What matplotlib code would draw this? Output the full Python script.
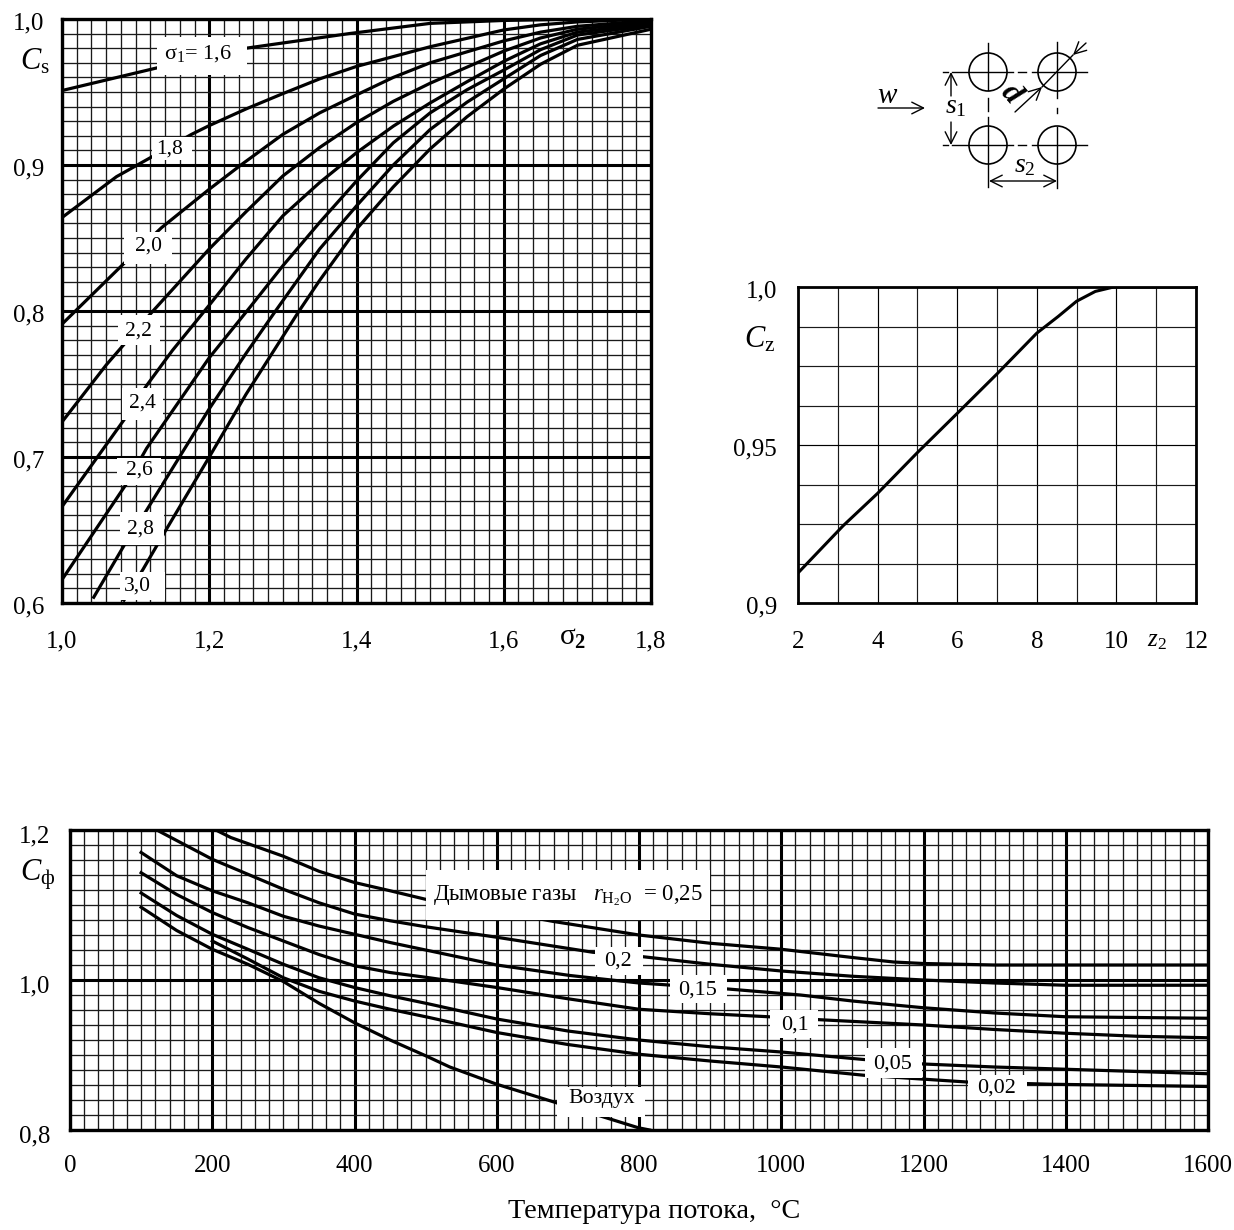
import matplotlib

matplotlib.use("Agg")
import matplotlib.pyplot as plt
from matplotlib.patches import Circle, Rectangle
from matplotlib.transforms import ScaledTranslation

plt.rcParams["font.family"] = ["Liberation Serif", "DejaVu Serif"]
plt.rcParams["mathtext.fontset"] = "custom"
plt.rcParams["mathtext.rm"] = "Liberation Serif"
plt.rcParams["mathtext.it"] = "Liberation Serif:italic"
plt.rcParams["mathtext.bf"] = "Liberation Serif:bold"

W, H = 1234, 1230

# Cs(sigma2) - one curve per sigma1
s16_x = [1.0, 1.133, 1.25, 1.39, 1.5, 1.6, 1.7, 1.8]
s16_y = [0.951, 0.967, 0.980, 0.990, 0.997, 0.999, 1.0, 1.0]
s18_x = [1.0, 1.074, 1.12, 1.176, 1.2, 1.25, 1.3, 1.35, 1.4, 1.5, 1.6, 1.65, 1.7, 1.8]
s18_y = [0.864, 0.892, 0.905, 0.921, 0.927, 0.9384, 0.9489, 0.959, 0.9675, 0.981, 0.9925, 0.996, 0.998, 1.0]
s20_x = [1.0, 1.085, 1.135, 1.2, 1.243, 1.3, 1.35, 1.4, 1.45, 1.5, 1.6, 1.65, 1.7, 1.8]
s20_y = [0.791, 0.833, 0.857, 0.8834, 0.90, 0.921, 0.9357, 0.948, 0.960, 0.970, 0.985, 0.991, 0.995, 0.999]
s22_x = [1.0, 1.06, 1.12, 1.2, 1.25, 1.3, 1.35, 1.4, 1.45, 1.5, 1.55, 1.6, 1.65, 1.7, 1.8]
s22_y = [0.724, 0.763, 0.798, 0.8425, 0.868, 0.8925, 0.912, 0.929, 0.9436, 0.956, 0.967, 0.978, 0.987, 0.993, 0.998]
s24_x = [1.0, 1.085, 1.115, 1.15, 1.2, 1.25, 1.3, 1.35, 1.4, 1.45, 1.5, 1.55, 1.6, 1.65, 1.7, 1.8]
s24_y = [0.666, 0.726, 0.749, 0.773, 0.804, 0.8357, 0.8652, 0.888, 0.9084, 0.9266, 0.9425, 0.957, 0.971, 0.983, 0.991, 0.997]
s26_x = [1.0, 1.088, 1.115, 1.2, 1.256, 1.3, 1.35, 1.4, 1.45, 1.5, 1.55, 1.6, 1.65, 1.7, 1.8]
s26_y = [0.616, 0.682, 0.706, 0.768, 0.803, 0.831, 0.8607, 0.889, 0.9152, 0.9357, 0.9515, 0.965, 0.979, 0.989, 0.996]
s28_x = [1.042, 1.085, 1.113, 1.2, 1.25, 1.29, 1.35, 1.4, 1.45, 1.5, 1.55, 1.6, 1.65, 1.7, 1.8]
s28_y = [0.603, 0.64, 0.662, 0.733, 0.771, 0.80, 0.8425, 0.872, 0.90, 0.9243, 0.943, 0.959, 0.975, 0.986, 0.995]
s30_x = [1.083, 1.11, 1.14, 1.2, 1.25, 1.322, 1.35, 1.4, 1.45, 1.5, 1.55, 1.6, 1.65, 1.7, 1.8]
s30_y = [0.601, 0.623, 0.649, 0.70, 0.743, 0.80, 0.821, 0.856, 0.885, 0.911, 0.933, 0.952, 0.969, 0.982, 0.993]

# Cz(z2)
z2_vals = [2, 3.13, 4, 5, 6, 7, 8, 8.54, 9, 9.47, 9.93, 12]
cz_vals = [0.9095, 0.9244, 0.9347, 0.9476, 0.96, 0.9725, 0.9854, 0.9907, 0.9955, 0.9986, 1.0, 1.0]

# Cphi(T)
r25_t = [205, 226, 300, 350, 400, 450, 500, 600, 680, 800, 900, 1000, 1100, 1158, 1200, 1300, 1400, 1600]
r25_c = [1.2, 1.19, 1.165, 1.145, 1.13, 1.119, 1.1076, 1.092, 1.078, 1.06, 1.049, 1.041, 1.03, 1.024, 1.022, 1.02, 1.02, 1.02]
r20_t = [122, 200, 250, 300, 350, 400, 450, 500, 600, 735, 806, 900, 1000, 1100, 1200, 1300, 1400, 1600]
r20_c = [1.2, 1.161, 1.141, 1.121, 1.103, 1.088, 1.079, 1.071, 1.057, 1.037, 1.031, 1.021, 1.012, 1.005, 1.0, 0.996, 0.993, 0.993]
r15_t = [100, 150, 200, 250, 300, 350, 400, 450, 505, 600, 703, 800, 925, 1027, 1100, 1200, 1300, 1400, 1600]
r15_c = [1.17, 1.139, 1.119, 1.103, 1.085, 1.072, 1.061, 1.05, 1.039, 1.02, 1.006, 0.996, 0.988, 0.98, 0.972, 0.963, 0.956, 0.951, 0.949]
r10_t = [100, 150, 200, 250, 300, 350, 400, 450, 505, 600, 700, 800, 900, 982, 1055, 1200, 1300, 1400, 1500, 1600]
r10_c = [1.143, 1.114, 1.09, 1.07, 1.052, 1.034, 1.019, 1.01, 1.003, 0.99, 0.975, 0.961, 0.955, 0.951, 0.947, 0.94, 0.934, 0.929, 0.925, 0.923]
r05_t = [100, 150, 200, 250, 300, 350, 400, 450, 505, 600, 700, 800, 900, 1000, 1116, 1200, 1300, 1400, 1600]
r05_c = [1.116, 1.086, 1.061, 1.041, 1.021, 1.003, 0.99, 0.979, 0.968, 0.948, 0.932, 0.92, 0.911, 0.904, 0.894, 0.888, 0.884, 0.881, 0.875]
r02_t = [200, 250, 300, 350, 400, 450, 505, 600, 700, 800, 900, 1000, 1116, 1261, 1380, 1600]
r02_c = [1.052, 1.028, 1.003, 0.985, 0.972, 0.961, 0.95, 0.93, 0.914, 0.901, 0.892, 0.884, 0.873, 0.864, 0.861, 0.858]
air_t = [100, 150, 200, 250, 300, 350, 400, 450, 500, 534, 600, 685, 731, 799, 815]
air_c = [1.097, 1.066, 1.041, 1.021, 0.998, 0.969, 0.943, 0.92, 0.899, 0.884, 0.861, 0.836, 0.823, 0.803, 0.80]

cs_xticks = [1.0, 1.2, 1.4, 1.6, 1.8]
cs_xlabels = ["1,0", "1,2", "1,4", "1,6", "1,8"]
cs_yticks = [0.6, 0.7, 0.8, 0.9, 1.0]
cs_ylabels = ["0,6", "0,7", "0,8", "0,9", "1,0"]
cz_xticks = [2, 4, 6, 8, 10, 12]
cz_yticks = [0.9, 0.95, 1.0]
cz_ylabels = ["0,9", "0,95", "1,0"]
cf_xticks = [0, 200, 400, 600, 800, 1000, 1200, 1400, 1600]
cf_yticks = [0.8, 1.0, 1.2]
cf_ylabels = ["0,8", "1,0", "1,2"]

fig = plt.figure(figsize=(W / 100, H / 100), dpi=100, facecolor="white")


def make_axes(left, top, right, bottom):
    return fig.add_axes([left / W, 1 - bottom / H, (right - left) / W, (bottom - top) / H])


def grid_setup(ax, xticks, xlabels, xminor, yticks, ylabels, yminor, major_lw, minor_lw, frame_lw, padx, pady, ydrop):
    ax.set_xticks(xticks, xlabels)
    ax.set_yticks(yticks, ylabels)
    ax.set_xticks(xminor, minor=True)
    ax.set_yticks(yminor, minor=True)
    ax.grid(True, which="major", color="black", lw=major_lw)
    ax.grid(True, which="minor", color="#1a1a1a", lw=minor_lw)
    ax.set_axisbelow(True)
    ax.tick_params(which="both", length=0)
    ax.tick_params(axis="x", pad=padx, labelsize=18)
    ax.tick_params(axis="y", pad=pady, labelsize=18)
    # the y labels sit a little below their lines in the print
    for lab in ax.get_yticklabels():
        lab.set_transform(lab.get_transform() + ScaledTranslation(0, -ydrop / 100, fig.dpi_scale_trans))
    for s in ax.spines.values():
        s.set_linewidth(frame_lw)


# chart Cs
ax1 = make_axes(62, 19, 651, 603)
ax1.set_xlim(1.0, 1.8)
ax1.set_ylim(0.6, 1.0)
grid_setup(
    ax1, cs_xticks, cs_xlabels, [1.0 + 0.02 * i for i in range(41)],
    cs_yticks, cs_ylabels, [0.6 + 0.01 * i for i in range(41)],
    2.2, 0.95, 2.4, 20, 13, 2,
)
for xs, ys in [
    (s16_x, s16_y), (s18_x, s18_y), (s20_x, s20_y), (s22_x, s22_y),
    (s24_x, s24_y), (s26_x, s26_y), (s28_x, s28_y), (s30_x, s30_y),
]:
    ax1.plot(xs, ys, color="black", lw=2.3, solid_capstyle="butt", solid_joinstyle="round")

# chart Cz
ax2 = make_axes(798, 287, 1196, 603)
ax2.set_xlim(2, 12)
ax2.set_ylim(0.9, 1.0)
grid_setup(
    ax2, cz_xticks, [str(v) for v in cz_xticks], [3, 5, 7, 9, 11],
    cz_yticks, cz_ylabels, [0.9 + 0.0125 * i for i in range(9)],
    0.85, 0.85, 2.0, 20, 15, 2,
)
ax2.plot(z2_vals, cz_vals, color="black", lw=2.2, solid_joinstyle="round")

# chart Cphi
ax3 = make_axes(70, 830, 1208, 1130)
ax3.set_xlim(0, 1600)
ax3.set_ylim(0.8, 1.2)
grid_setup(
    ax3, cf_xticks, [str(v) for v in cf_xticks], [20 * i for i in range(81)],
    cf_yticks, cf_ylabels, [0.8 + 0.02 * i for i in range(21)],
    2.2, 0.95, 2.4, 18, 14, 4,
)
for ts, cs in [
    (r25_t, r25_c), (r20_t, r20_c), (r15_t, r15_c), (r10_t, r10_c),
    (r05_t, r05_c), (r02_t, r02_c), (air_t, air_c),
]:
    ax3.plot(ts, cs, color="black", lw=2.3, solid_joinstyle="round")

# overlay in picture pixels, for labels, their white boxes and the tube sketch
ov = fig.add_axes([0, 0, 1, 1], zorder=10)
ov.set_xlim(0, W)
ov.set_ylim(H, 0)
ov.axis("off")
ov.patch.set_alpha(0)


def label(text, x0, y0, x1, y1, cx=None, cy=None, size=15.5):
    ov.add_patch(Rectangle((x0, y0), x1 - x0, y1 - y0, fc="white", ec="none"))
    cx = (x0 + x1) / 2 if cx is None else cx
    cy = (y0 + y1) / 2 if cy is None else cy
    ov.text(cx, cy, text, fontsize=size, ha="center", va="center")


label(r"$\mathrm{σ}_1$= 1,6", 157, 37, 247, 75, cx=198, cy=54, size=16)
label("1,8", 152, 137, 192, 160, cx=170, cy=149)
label("2,0", 124, 232, 172, 264, cx=148, cy=246)
label("2,2", 118, 315, 160, 345, cx=138, cy=331)
label("2,4", 122, 388, 163, 420, cx=142, cy=403)
label("2,6", 117, 458, 161, 485, cx=139, cy=470)
label("2,8", 120, 512, 164, 545, cx=140, cy=529)
label("3,0", 120, 572, 165, 600, cx=137, cy=586)

label(r"Дымовые газы   $r_{\mathrm{H_2O}}$  = 0,25", 426, 870, 710, 920, cx=568, cy=896, size=16.5)
label("0,2", 595, 947, 643, 975, cx=618, cy=961, size=16)
label("0,15", 670, 975, 727, 1003, cx=698, cy=990, size=16)
label("0,1", 770, 1010, 818, 1038, cx=795, cy=1025, size=16)
label("0,05", 865, 1048, 922, 1078, cx=893, cy=1064, size=16)
label("0,02", 968, 1075, 1027, 1100, cx=997, cy=1088, size=16)
label("Воздух", 557, 1087, 645, 1117, cx=602, cy=1099, size=15.7)

ov.text(35, 62, r"$C_{\mathrm{s}}$", fontsize=22, ha="center", va="center")
ov.text(573, 638, r"$\mathrm{σ}_{\mathbf{2}}$", fontsize=21, ha="center", va="center")
ov.text(760, 340, r"$C_{\mathrm{z}}$", fontsize=22, ha="center", va="center")
ov.text(1157, 641, r"$z_{\mathrm{2}}$", fontsize=18, ha="center", va="center")
ov.text(38, 875, r"$C_{\mathrm{ф}}$", fontsize=22, ha="center", va="center")
ov.text(654, 1212, "Температура потока,  °C", fontsize=20.3, ha="center", va="center")

# tube bundle sketch
for cx_, cy_ in [(988, 72), (1057, 72), (988, 145), (1057, 145)]:
    ov.add_patch(Circle((cx_, cy_), 19, fc="none", ec="black", lw=1.2))
for y_ in (72, 145):
    ov.plot([943, 948], [y_, y_], color="black", lw=1.0)
    ov.plot([952, 1013], [y_, y_], color="black", lw=1.0)
    ov.plot([1018, 1026], [y_, y_], color="black", lw=1.0)
    ov.plot([1032, 1087], [y_, y_], color="black", lw=1.0)
ov.plot([988, 988], [43, 90], color="black", lw=1.0)
ov.plot([988, 988], [98, 111], color="black", lw=1.0)
ov.plot([988, 988], [117, 187], color="black", lw=1.0)
ov.plot([1057, 1057], [42, 98], color="black", lw=1.0)
ov.plot([1057, 1057], [108, 113], color="black", lw=1.0)
ov.plot([1057, 1057], [127, 188], color="black", lw=1.0)


def arrow(x0, y0, x1, y1, style="->"):
    ov.annotate(
        "", xy=(x1, y1), xytext=(x0, y0),
        arrowprops=dict(arrowstyle=style, color="black", lw=1.0, mutation_scale=21,
                        shrinkA=0, shrinkB=0),
    )


arrow(878, 108, 925, 108)
arrow(951, 96, 951, 72)
arrow(951, 122, 951, 145)
arrow(1015, 112, 1042, 87)
ov.plot([1042, 1073], [87, 55], color="black", lw=1.0)
arrow(1086, 43, 1073, 55)
arrow(989, 181, 1057, 181, "<->")
ov.text(888, 96, r"$w$", fontsize=21, ha="center", va="center")
ov.text(956, 107, r"$\mathit{s}_{\mathit{1}}$", fontsize=20, ha="center", va="center")
ov.text(1025, 166, r"$\mathit{s}_{\mathit{2}}$", fontsize=20, ha="center", va="center")
ov.text(1011, 94, "d", fontsize=23, fontweight="bold", fontstyle="italic", rotation=-48,
        ha="center", va="center")

fig.savefig("out.png", dpi=100, facecolor="white")
